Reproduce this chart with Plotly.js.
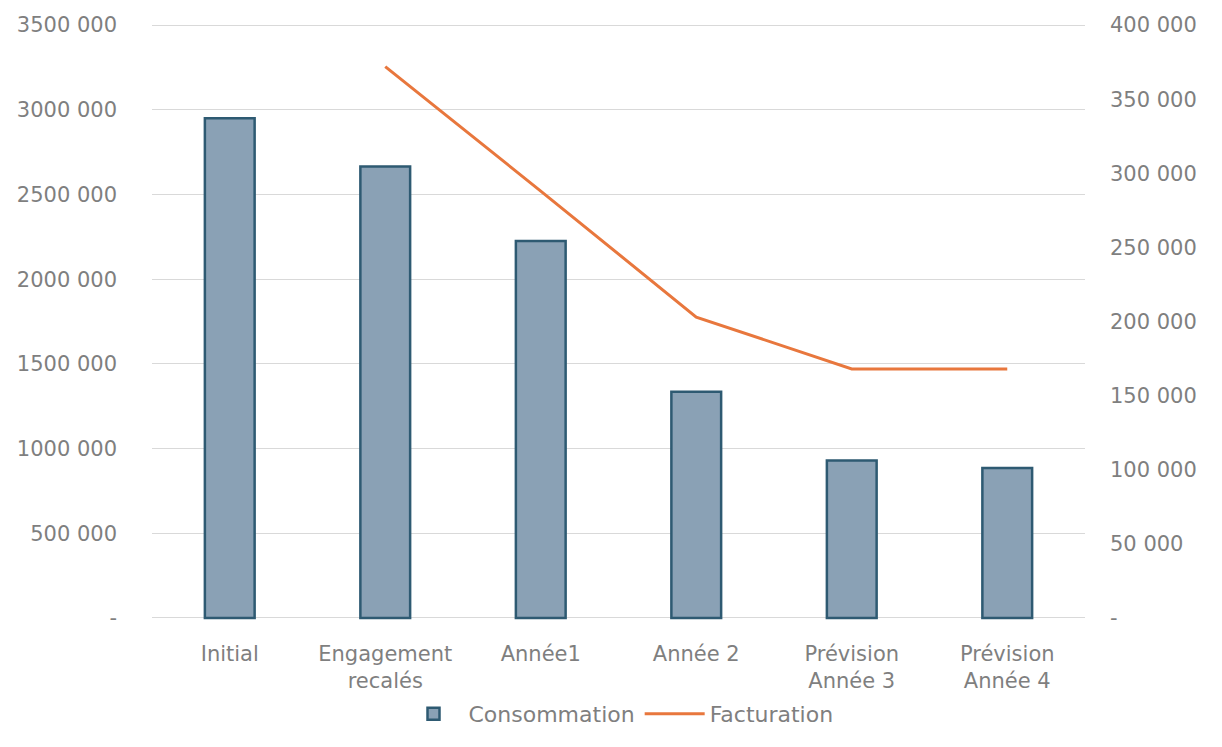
<!DOCTYPE html>
<html><head><meta charset="utf-8">
<script src="https://cdn.plot.ly/plotly-3.0.1.min.js"></script>
<style>body{margin:0;background:#fff}#c{width:1222px;height:747px}</style>
</head><body><div id="c"></div>
<script>
const categories = ["Initial", "Engagement<br>recalés", "Année1", "Année 2", "Prévision<br>Année 3", "Prévision<br>Année 4"];
const consommation = [2950000, 2665000, 2225000, 1335000, 930000, 885000];
const facturation = [null, 372000, 288000, 203000, 168000, 168000];
const leftTickVals = [0, 500000, 1000000, 1500000, 2000000, 2500000, 3000000, 3500000];
const leftTickText = ["-", "500 000", "1000 000", "1500 000", "2000 000", "2500 000", "3000 000", "3500 000"];
const rightTickVals = [0, 50000, 100000, 150000, 200000, 250000, 300000, 350000, 400000];
const rightTickText = ["-", "50 000", "100 000", "150 000", "200 000", "250 000", "300 000", "350 000", "400 000"];

const font = {family: "DejaVu Sans", size: 21, color: "#7f7f7f"};
const data = [
  {type: "bar", name: "Consommation", x: categories, y: consommation,
   marker: {color: "#8aa1b5", line: {color: "#2e5a72", width: 2.5}}, width: 0.32},
  {type: "scatter", mode: "lines", name: "Facturation", x: categories, y: facturation,
   yaxis: "y2", line: {color: "#e8773d", width: 3}, connectgaps: false}
];
const layout = {
  width: 1222, height: 747,
  margin: {l: 152, r: 137, t: 22, b: 126},
  paper_bgcolor: "#fff", plot_bgcolor: "#fff",
  font: font, showlegend: true,
  legend: {orientation: "h", x: 0.5, xanchor: "center", y: -0.12, yanchor: "top",
           font: {family: "DejaVu Sans", size: 22, color: "#7f7f7f"}, itemwidth: 60},
  xaxis: {type: "category", showgrid: false, showline: false, zeroline: false, ticks: "", tickfont: font,
          ticklabelstandoff: 18, automargin: false},
  yaxis: {range: [-18000, 3518000], tickvals: leftTickVals, ticktext: leftTickText, showgrid: true,
          gridcolor: "#d9d9d9", gridwidth: 1, zeroline: true, zerolinecolor: "#d9d9d9", zerolinewidth: 1,
          showline: false, ticks: "", tickfont: font, ticklabelstandoff: 34, automargin: false},
  yaxis2: {range: [-2057.14, 402057.14], overlaying: "y", side: "right", tickvals: rightTickVals, ticktext: rightTickText,
           showgrid: false, zeroline: false, showline: false, ticks: "", tickfont: font, ticklabelstandoff: 24,
           automargin: false}
};
Plotly.newPlot("c", data, layout, {displayModeBar: false});
</script></body></html>
